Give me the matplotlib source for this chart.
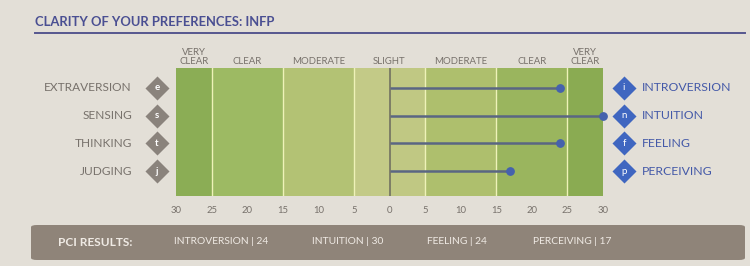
import matplotlib.pyplot as plt
from matplotlib.patches import FancyBboxPatch
import matplotlib.lines as mlines

plt.rcParams['font.family'] = ['Lato', 'DejaVu Sans']

# data
left_traits = ['EXTRAVERSION', 'SENSING', 'THINKING', 'JUDGING']
left_letters = ['e', 's', 't', 'j']
right_traits = ['INTROVERSION', 'INTUITION', 'FEELING', 'PERCEIVING']
right_letters = ['i', 'n', 'f', 'p']
scores = [24, 30, 24, 17]
band_edges = [-30, -25, -15, -5, 0, 5, 15, 25, 30]
band_names = ['VERY\nCLEAR', 'CLEAR', 'MODERATE', 'SLIGHT', 'MODERATE', 'CLEAR', 'VERY\nCLEAR']
band_centers = [-27.5, -20, -10, 0, 10, 20, 27.5]
ticks = [-30, -25, -20, -15, -10, -5, 0, 5, 10, 15, 20, 25, 30]
tick_labels = ['30', '25', '20', '15', '10', '5', '0', '5', '10', '15', '20', '25', '30']
results = ['INTROVERSION | 24', 'INTUITION | 30', 'FEELING | 24', 'PERCEIVING | 17']

paper = '#e3dfd7'
band_colors = ['#8bad55', '#9dba63', '#b3c274', '#c3ca87', '#c0c883', '#aebf6d', '#9ab55e', '#8aab52']
grey_txt = '#77716b'
blue = '#3f66c0'

fig = plt.figure(figsize=(7.5, 2.66), dpi=100, facecolor=paper)
ax = fig.add_axes([176/750, 70/266, 427/750, 128/266])
ax.set_facecolor(paper)
ax.set_xlim(-30, 30)
ax.set_ylim(3.9, -0.72)
rows = range(len(left_traits))

for i in range(len(band_edges) - 1):
    ax.axvspan(band_edges[i], band_edges[i + 1], color=band_colors[i], lw=0)
for e in [-25, -15, -5, 5, 15, 25]:
    ax.axvline(e, color='#eef2b8', lw=1)
ax.axvline(0, color='#6b6a5e', lw=1.1)

for r, v in zip(rows, scores):
    ax.plot([0, v], [r, r], color='#5a6683', lw=1.8, solid_capstyle='butt', zorder=3, clip_on=False)
    ax.scatter([v], [r], s=28, color='#4562ad', zorder=4, clip_on=False)

# diamonds
ax.scatter([-32.7] * 4, list(rows), marker='D', s=150, color='#8a837c', clip_on=False, lw=0)
ax.scatter([32.95] * 4, list(rows), marker='D', s=150, color=blue, clip_on=False, lw=0)
for r, l1, l2, t1, t2 in zip(rows, left_letters, right_letters, left_traits, right_traits):
    ax.text(-32.7, r, l1, color='white', fontsize=7, fontweight='bold', ha='center', va='center')
    ax.text(32.95, r, l2, color='white', fontsize=7, ha='center', va='center')
    ax.text(-36.2, r, t1, color=grey_txt, fontsize=8.6, ha='right', va='center')
    ax.text(35.5, r, t2, color='#4459a8', fontsize=8.8, ha='left', va='center')

for c, n in zip(band_centers, band_names):
    ax.text(c, -0.8, n, color=grey_txt, fontsize=6.9, ha='center', va='bottom', linespacing=0.95)

ax.set_xticks(ticks)
ax.set_xticklabels(tick_labels, fontsize=6.8, color=grey_txt)
ax.tick_params(length=0, pad=7)
ax.set_yticks([])
for s in ax.spines.values():
    s.set_visible(False)

# title and rule
fig.text(35/750, 1 - 22/266, 'CLARITY OF YOUR PREFERENCES: INFP', fontsize=9.4, fontweight='bold',
         color='#4a4f92', ha='left', va='center')
fig.add_artist(mlines.Line2D([35/750, 745/750], [1 - 33/266, 1 - 33/266], color='#56578f', lw=1.4))

# results banner
fig.patches.append(FancyBboxPatch((31/750, 1 - 260/266), 714/750, 35/266,
                                  boxstyle='round,pad=0,rounding_size=0.008',
                                  transform=fig.transFigure, color='#8f8479', lw=0))
fig.text(58/750, 1 - 242/266, 'PCI RESULTS:', fontsize=8.6, fontweight='bold', color='#efeae4',
         ha='left', va='center')
for x, t in zip([174, 312, 427, 533], results):
    fig.text(x/750, 1 - 242/266, t, fontsize=7.4, color='#efeae4', ha='left', va='center')

fig.savefig('out.png', dpi=100, facecolor=paper)
